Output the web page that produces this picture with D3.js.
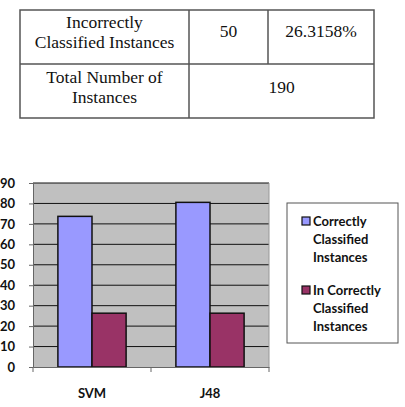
<!DOCTYPE html>
<html>
<head>
<meta charset="utf-8">
<script src="https://cdn.jsdelivr.net/npm/d3@7"></script>
<style>
	body{margin:0; background:#fff;}
</style>
</head>
<body>
<svg id="graph" width="405" height="407"></svg>
<script>
// table values
const tableRows = [
	["Incorrectly", "Classified Instances"],
	["Total Number of", "Instances"]
];
const tableValues = [["50", "26.3158%"], ["190"]];

// chart values
const categories = ["SVM", "J48"];
const seriesNames = ["Correctly Classified Instances", "In Correctly Classified Instances"];
const correctValues = [73.68, 80.53];
const incorrectValues = [26.32, 26.32];
const yTicks = [0, 10, 20, 30, 40, 50, 60, 70, 80, 90];

const colors = ["#9999ff", "#993366"];
const chartFamily = "Lato, 'Open Sans', sans-serif";
const tableFamily = "Liberation Serif, DejaVu Serif, serif";

var graph = d3.select("#graph");

//helper for table text
function tableText(g, x, y, txt){
	g.append("text")
		.attr("font-family", tableFamily)
		.attr("font-size", 17.5)
		.attr("text-anchor", "middle")
		.attr("x", x)
		.attr("y", y)
		.attr("fill", "#111")
		.text(txt);
}

//table at the top
function drawTable(){
	var t = graph.append("g").attr("class", "table");
	var left = 20, right = 374, top = 10, mid = 64, bottom = 118;
	var col1 = 189, col2 = 268;

	t.append("rect")
		.attr("x", left).attr("y", top)
		.attr("width", right - left).attr("height", bottom - top)
		.attr("fill", "none").attr("stroke", "#555").attr("stroke-width", 1.5);
	t.append("line")
		.attr("x1", left).attr("x2", right).attr("y1", mid).attr("y2", mid)
		.attr("stroke", "#555").attr("stroke-width", 1.5);
	t.append("line")
		.attr("x1", col1).attr("x2", col1).attr("y1", top).attr("y2", bottom)
		.attr("stroke", "#555").attr("stroke-width", 1.5);
	t.append("line")
		.attr("x1", col2).attr("x2", col2).attr("y1", top).attr("y2", mid)
		.attr("stroke", "#555").attr("stroke-width", 1.5);

	var rowBase = [28, 83];
	tableRows.forEach(function(lines, r){
		lines.forEach(function(txt, j){
			tableText(t, (left + col1) / 2, rowBase[r] + j * 20, txt);
		});
	});

	tableText(t, (col1 + col2) / 2, 37, tableValues[0][0]);
	tableText(t, (col2 + right) / 2, 37, tableValues[0][1]);
	tableText(t, (col1 + right) / 2, 93, tableValues[1][0]);
}

function drawChart(){
	var plot = {left: 33, right: 269, top: 183, bottom: 367};

	var x = d3.scaleBand()
		.domain(categories)
		.range([plot.left, plot.right]);
	var inner = d3.scaleBand()
		.domain([0, 1])
		.range([0, x.bandwidth()])
		.paddingOuter(0.73)
		.paddingInner(0);
	var y = d3.scaleLinear()
		.domain([0, 90])
		.range([plot.bottom, plot.top]);

	//gray plot background
	graph.append("rect")
		.attr("x", plot.left).attr("y", plot.top)
		.attr("width", plot.right - plot.left).attr("height", plot.bottom - plot.top)
		.attr("fill", "#c0c0c0");

	//gridlines
	graph.selectAll(".grid")
		.data(yTicks.filter(d => d > 0))
		.enter()
		.append("line")
			.attr("class", "grid")
			.attr("x1", plot.left).attr("x2", plot.right)
			.attr("y1", d => y(d)).attr("y2", d => y(d))
			.attr("stroke", "#111").attr("stroke-width", 1);

	//right edge of plot area
	graph.append("line")
		.attr("x1", plot.right).attr("x2", plot.right)
		.attr("y1", plot.top).attr("y2", plot.bottom)
		.attr("stroke", "#999").attr("stroke-width", 1);

	//bars
	var series = [correctValues, incorrectValues];
	series.forEach(function(vals, s){
		graph.selectAll(".bar" + s)
			.data(categories)
			.enter()
			.append("rect")
				.attr("class", "bar" + s)
				.attr("x", (d) => x(d) + inner(s))
				.attr("y", (d, i) => y(vals[i]))
				.attr("width", inner.bandwidth())
				.attr("height", (d, i) => y(0) - y(vals[i]))
				.attr("fill", colors[s])
				.attr("stroke", "#111")
				.attr("stroke-width", 1.5);
	});

	//y axis
	var yAxis = d3.axisLeft(y).tickValues(yTicks).tickSize(4).tickPadding(5);
	var gy = graph.append("g")
		.attr("transform", "translate(" + plot.left + ",0)")
		.call(yAxis);
	gy.select(".domain").attr("stroke", "#666");
	gy.selectAll(".tick line").attr("stroke", "#666");
	gy.selectAll(".tick text")
		.attr("font-family", chartFamily)
		.attr("font-size", 13)
		.attr("font-weight", "bold")
		.attr("x", -18)
		.attr("fill", "#111");

	//x axis with ticks between categories
	var xAxis = d3.axisBottom(x).tickSize(0).tickPadding(22);
	var gx = graph.append("g")
		.attr("transform", "translate(0," + plot.bottom + ")")
		.call(xAxis);
	gx.select(".domain").attr("stroke", "#666");
	gx.selectAll(".tick text")
		.attr("font-family", chartFamily)
		.attr("font-size", 13)
		.attr("font-weight", "bold")
		.attr("fill", "#111");
	gx.selectAll(".sep")
		.data([plot.left, x("J48"), plot.right])
		.enter()
		.append("line")
			.attr("class", "sep")
			.attr("x1", d => d).attr("x2", d => d)
			.attr("y1", 0).attr("y2", 5)
			.attr("stroke", "#666");

	//legend
	var legend = graph.append("g").attr("class", "legend");
	legend.append("rect")
		.attr("x", 287).attr("y", 203)
		.attr("width", 111).attr("height", 140)
		.attr("fill", "#fff").attr("stroke", "#555").attr("stroke-width", 1);

	var legendLines = [["Correctly", "Classified", "Instances"], ["In Correctly", "Classified", "Instances"]];
	seriesNames.forEach(function(name, s){
		var top = 221 + s * 69;
		legend.append("rect")
			.attr("x", 302).attr("y", top - 4)
			.attr("width", 8).attr("height", 8)
			.attr("fill", colors[s]).attr("stroke", "#111").attr("stroke-width", 1.2);
		legendLines[s].forEach(function(txt, j){
			legend.append("text")
				.attr("font-family", chartFamily)
				.attr("font-size", 13)
				.attr("font-weight", "bold")
				.attr("x", 313)
				.attr("y", top + 5 + j * 18)
				.attr("fill", "#111")
				.text(txt);
		});
	});
}

drawTable();
drawChart();
</script>
</body>
</html>
